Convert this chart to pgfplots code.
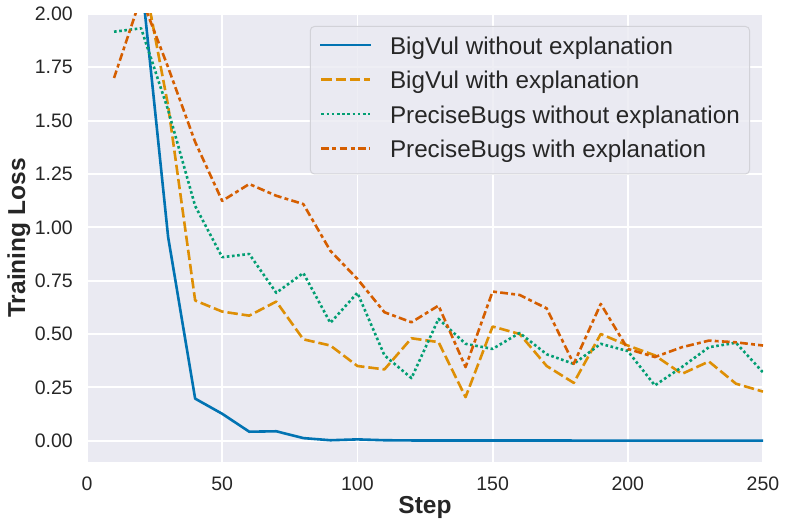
\documentclass[border=0pt]{standalone}
\usepackage{fontspec}
\setmainfont{Liberation Sans}
\usepackage{pgfplots}
\usepackage{pgfplotstable}
\pgfplotsset{compat=1.18}

\definecolor{axisbg}{HTML}{EAEAF2}
\definecolor{txt}{HTML}{262626}
\definecolor{legedge}{HTML}{D2D2D8}
\definecolor{cbBlue}{HTML}{0173B2}
\definecolor{cbOrange}{HTML}{DE8F05}
\definecolor{cbGreen}{HTML}{029E73}
\definecolor{cbRed}{HTML}{D55E00}

% training loss per logging step
\pgfplotstableread{
step bvno   bvyes pbno  pbyes
10   2.50   2.45  1.917 1.70
20   2.18   2.24  1.933 2.08
30   0.955  1.57  1.55  1.75
40   0.197  0.657 1.10  1.40
50   0.126  0.605 0.86  1.124
60   0.042  0.586 0.875 1.203
70   0.044  0.652 0.693 1.148
80   0.012  0.475 0.786 1.109
90   0.002  0.446 0.552 0.89
100  0.006  0.35  0.693 0.758
110  0.002  0.334 0.40  0.602
120  0.001  0.48  0.293 0.555
130  0.001  0.462 0.571 0.633
140  0.001  0.204 0.454 0.345
150  0.001  0.535 0.43  0.699
160  0.001  0.50  0.505 0.683
170  0.001  0.35  0.405 0.62
180  0.0005 0.271 0.36  0.36
190  0.0005 0.50  0.454 0.641
200  0.0005 0.446 0.42  0.43
210  0.0005 0.40  0.259 0.392
220  0.0005 0.313 0.345 0.438
230  0.0005 0.371 0.438 0.469
240  0.0004 0.267 0.459 0.461
250  0.0004 0.23  0.32  0.446
}\losstable

\begin{document}
\begin{tikzpicture}
\begin{axis}[
    width=676pt, height=448pt, scale only axis,
    xmin=0, xmax=250, ymin=-0.1, ymax=2.0,
    xtick={0,50,100,150,200,250},
    ytick={0,0.25,0.5,0.75,1,1.25,1.5,1.75,2},
    yticklabel style={/pgf/number format/fixed, /pgf/number format/fixed zerofill, /pgf/number format/precision=2},
    /pgf/number format/assume math mode=true,
    tick label style={font=\fontsize{19.5}{23}\selectfont, text=txt},
    xticklabel style={inner sep=0pt, anchor=north, yshift=-14.5pt},
    yticklabel style={inner sep=0pt, anchor=east, xshift=-14pt},
    major tick length=0pt,
    tick style={draw=none},
    axis line style={draw=none},
    axis background/.style={fill=axisbg},
    grid=major,
    major grid style={white, line width=1.8pt},
    xlabel={Step}, ylabel={Training Loss},
    label style={font=\fontsize{24.5}{29}\selectfont\bfseries, text=txt},
    xlabel style={at={(axis description cs:0.5,-0.116)}, anchor=base},
    ylabel style={at={(axis description cs:-0.0917,0.5)}, anchor=base},
    legend cell align=left,
    legend image code/.code={
        \draw[#1] (0pt,3.35pt) -- (48.4pt,3.35pt);
        \path[draw=none, fill=none] (0pt,3.35pt) (68.7pt,3.35pt);
    },
    legend style={
        at={(0.9808,0.9732)}, anchor=north east,
        fill=axisbg, fill opacity=0.8, text opacity=1,
        draw=legedge, line width=1pt, rounded corners=4pt,
        font=\fontsize{24.2}{29}\selectfont, text=txt,
        inner xsep=9.7pt, inner ysep=10.3pt,
        row sep=11.2pt,
        nodes={inner sep=0pt, text height=17.3pt, text depth=6pt},
    },
    every axis plot/.append style={line width=2.6pt, line join=round},
]
\addplot[cbBlue, line cap=rect] table[x=step, y=bvno] {\losstable};
\addplot[cbOrange, dash pattern=on 10.4pt off 3.9pt] table[x=step, y=bvyes] {\losstable};
\addplot[cbGreen, dash pattern=on 2.6pt off 2.6pt] table[x=step, y=pbno] {\losstable};
\addplot[cbRed, dash pattern=on 7.8pt off 3.25pt on 3.9pt off 3.25pt] table[x=step, y=pbyes] {\losstable};
\legend{BigVul without explanation, BigVul with explanation, PreciseBugs without explanation, PreciseBugs with explanation}
\end{axis}
\pgfresetboundingbox
\path[use as bounding box] (-87pt,-67pt) rectangle (702pt,462pt);
\end{tikzpicture}
\end{document}
